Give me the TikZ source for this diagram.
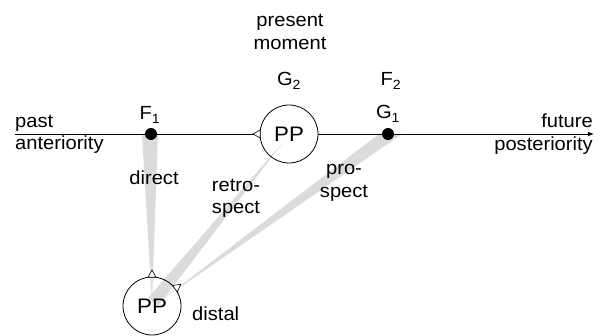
\documentclass[tikz,border=0pt]{standalone}
\usepackage{fontspec}
\setmainfont{Liberation Sans}[FakeStretch=1.06]
\usetikzlibrary{calc,arrows.meta}
\newcommand\ppmark[2]{\filldraw[marker] ($(#1.center)+(#2+8:29pt)$) -- ($(#1.center)+(#2:36pt)$) -- ($(#1.center)+(#2-8:29pt)$) -- cycle;}
\tikzset{
  lbl/.style={font=\fontsize{19}{22.5}\selectfont, inner sep=0pt},
  band/.style={fill=black!14, draw=none},
  ppc/.style={circle, draw, line width=0.8pt, minimum size=58pt, inner sep=0pt, font=\fontsize{21}{24}\selectfont},
  dotn/.style={circle, fill=black, minimum size=12pt, inner sep=0pt},
  tl/.style={line width=0.8pt},
  marker/.style={fill=white, draw, line width=0.6pt, line join=miter}
}
\begin{document}
\begin{tikzpicture}[x=1pt,y=-1pt]
\useasboundingbox (0,0) rectangle (602,336);
% gray bands
\fill[band] (142,134) -- (158,134) -- (152,303) -- cycle;
\fill[band] (284,141) -- (158.5,305.5) -- (148,298) -- cycle;
\fill[band] (379,134) -- (402,134) -- (159,302) -- cycle;
% nodes
\coordinate (start) at (15,134);
\coordinate (end) at (594,134);
\node[ppc] (PPtop) at (289,134) {PP};
\node[ppc] (PPbot) at (152,306) {PP};
\draw[tl] (start) -- (PPtop.west);
\draw[tl,-{Latex[length=6pt,width=4.5pt]}] (PPtop.east) -- (end);
\node[dotn] (F1) at (151,134) {};
\node[dotn] (G1) at (388,134) {};
\ppmark{PPtop}{180}
\ppmark{PPbot}{90}
\ppmark{PPbot}{37}
% labels
\node[lbl, anchor=west, align=left] (pastlbl) at (15,134.3) {past\\anteriority};
\node[lbl, anchor=east, align=right] (futlbl) at (593,134) {future\\posteriority};
\node[lbl, align=center] (present) at (290,32) {present\\moment};
\node[lbl, anchor=base] (F1lbl) at (150,120) {F\textsubscript{1}};
\node[lbl, anchor=base] (G1lbl) at (388,119) {G\textsubscript{1}};
\node[lbl, anchor=base] (G2lbl) at (289,86) {G\textsubscript{2}};
\node[lbl, anchor=base] (F2lbl) at (391,86) {F\textsubscript{2}};
\node[lbl, anchor=base] (direct) at (154,185) {direct};
\node[lbl, align=center] (retro) at (236,198.4) {retro-\\spect};
\node[lbl, align=center] (pro) at (344,183) {pro-\\spect};
\node[lbl, anchor=base west] (distal) at (192,320) {distal};
\end{tikzpicture}
\end{document}
